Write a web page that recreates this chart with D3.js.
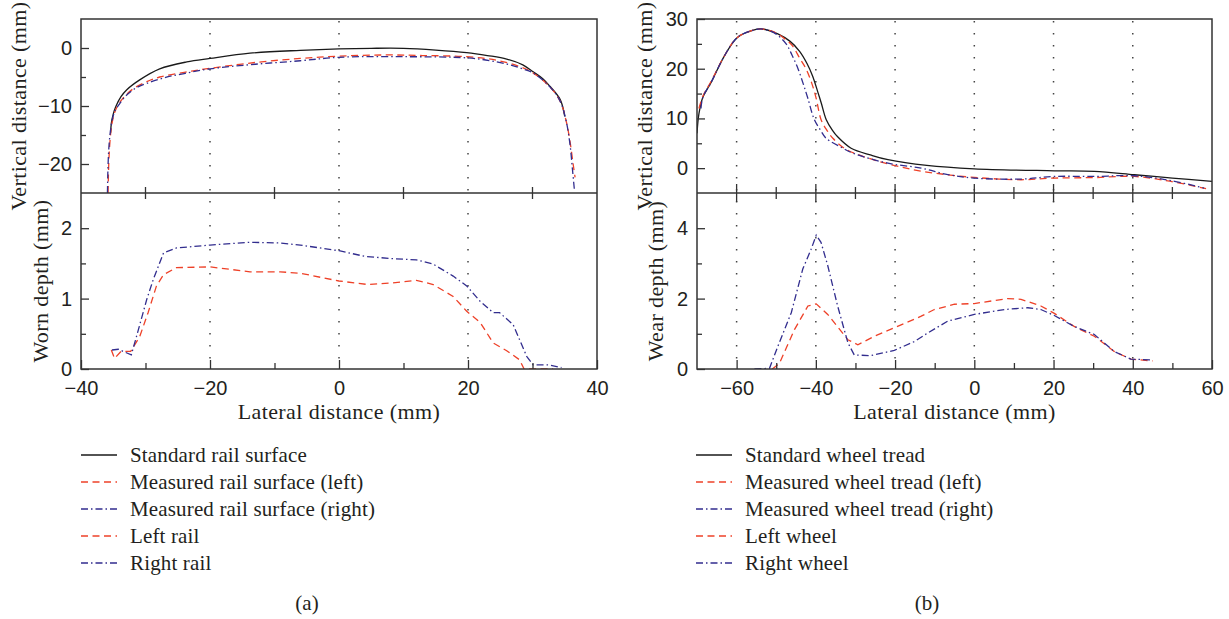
<!DOCTYPE html>
<html>
<head>
<meta charset="utf-8">
<script src="https://cdn.jsdelivr.net/npm/d3@7"></script>
<style>
  body { margin: 0; background: #fff; }
  svg { font-family: "Liberation Serif", "Times New Roman", serif; }
</style>
</head>
<body>
<svg id="chart" width="1229" height="619"></svg>
<script>
// ---- (a) rail: top panel profiles [lateral mm, vertical mm]
var railStandard = [[-35.4,-14.6],[-35.3,-13],[-35.0,-11.4],[-34.6,-10.1],[-33.8,-8.4],[-32.9,-7.2],[-30.9,-5.5],[-27.8,-3.6],[-23.6,-2.4],[-20,-1.8],[-13.8,-0.9],[-6,-0.4],[0,-0.15],[5,-0.05],[10,-0.05],[15,-0.35],[19.8,-0.8],[23,-1.3],[26,-1.9],[28.5,-2.9],[30.1,-4.1],[31.6,-5.3],[32.7,-6.6],[34.3,-8.9],[35.0,-11.8]];
var railMeasLeft = [[-35.8,-25],[-35.7,-20],[-35.5,-16],[-35.2,-13],[-34.6,-10.6],[-33.6,-8.8],[-32,-7.1],[-29.8,-5.8],[-27.8,-5.0],[-24,-4.2],[-20,-3.5],[-13,-2.5],[-6,-1.8],[0,-1.4],[7,-1.2],[13,-1.3],[19.8,-1.5],[24.4,-2.1],[28,-3.2],[30.1,-4.3],[32.7,-6.7],[34.3,-9.2],[35.2,-12.5],[35.8,-16],[36.3,-20],[36.6,-22.3]];
var railMeasRight = [[-35.9,-25],[-35.8,-20],[-35.6,-16],[-35.3,-13.3],[-34.8,-11],[-34,-9.6],[-33,-8.2],[-31.5,-6.9],[-29.8,-6.1],[-27,-5.1],[-24,-4.4],[-20,-3.6],[-13,-2.8],[-6,-2.2],[0,-1.6],[10,-1.5],[19.8,-1.7],[23.5,-2.2],[26.5,-2.9],[28.5,-3.6],[30.1,-4.3],[32.7,-6.7],[34.3,-9.2],[35.2,-12.5],[35.8,-16.5],[36.2,-21],[36.5,-24.5]];
// ---- (a) rail: bottom panel worn depth [lateral mm, depth mm]
var railWearLeft = [[-35.3,0.27],[-34.8,0.15],[-33.8,0.25],[-32.3,0.25],[-30.9,0.46],[-29.6,0.8],[-28.3,1.18],[-27.2,1.34],[-25.2,1.44],[-20,1.45],[-16.4,1.41],[-13.8,1.38],[-9.1,1.38],[-6,1.36],[0,1.25],[4.5,1.2],[7.9,1.22],[12,1.26],[14.6,1.2],[17.7,1.03],[19.8,0.82],[21.9,0.66],[23.9,0.37],[26,0.26],[28,0.13],[28.7,0],[33.2,0]];
var railWearRight = [[-35.2,0.27],[-34.2,0.28],[-32.2,0.2],[-31.4,0.46],[-29.8,0.99],[-28.8,1.27],[-27.2,1.65],[-25.2,1.72],[-20,1.76],[-13.8,1.8],[-9.1,1.79],[-6,1.76],[0,1.68],[4,1.6],[7.9,1.57],[12,1.55],[14.6,1.49],[17.7,1.32],[19.8,1.18],[21.9,0.96],[23.9,0.8],[24.9,0.8],[27,0.63],[29.1,0.18],[30.1,0.06],[32.5,0.06],[34.5,0.02]];

// ---- (b) wheel: top panel profiles
var wheelStandard = [[-70,7],[-69.5,11],[-68.5,14.3],[-66.4,17.3],[-63,22.7],[-59.8,26.3],[-56,27.7],[-53.8,28],[-49.6,27],[-46.5,25.5],[-44.1,23.5],[-42.2,21],[-40.8,18.5],[-39.5,15.3],[-38.6,13],[-37.4,9.8],[-35.8,7.6],[-34.5,6.3],[-31.1,4],[-26,2.6],[-21.8,1.7],[-12,0.55],[0,-0.13],[20.2,-0.53],[30.3,-0.67],[40.4,-1.33],[50,-2],[60,-2.67]];
var wheelMeasLeft = [[-69.5,12],[-68.5,14.5],[-66.4,17.5],[-63,22.7],[-59.8,26.3],[-56,27.7],[-53.8,28],[-50,27.2],[-47.5,25.8],[-45.8,24.5],[-44,22],[-42.5,20],[-41,17],[-39.9,14],[-38.7,9.8],[-37.2,7.6],[-35.7,6],[-32.8,4],[-28.6,2.5],[-20,0.5],[-13.4,-0.6],[-6.7,-1.33],[0,-1.87],[11.8,-2.33],[20.2,-2.0],[30.3,-1.9],[40.4,-1.67],[49.6,-2.67],[58.5,-4.13]];
var wheelMeasRight = [[-69,12],[-68.5,14.3],[-66.4,17.3],[-63,22.7],[-59.8,26.3],[-56,27.7],[-53.8,28],[-50.5,27.2],[-47.5,25],[-46,22.7],[-44.5,20],[-43.2,17],[-42,14],[-40.4,9.8],[-38.8,7.6],[-37.4,6],[-33.6,4.2],[-30.3,2.9],[-21.8,1.0],[-13.4,0],[-6.7,-1.3],[0,-2.0],[11.8,-2.2],[20.2,-1.67],[30.3,-1.67],[40.4,-1.53],[49.6,-2.5],[58,-4]];
// ---- (b) wheel: bottom panel wear depth
var wheelWearLeft = [[-51,0],[-49.2,0.16],[-45.4,1.12],[-42,1.79],[-39.9,1.85],[-37,1.55],[-31.9,0.83],[-29.4,0.69],[-25.2,0.93],[-20.2,1.17],[-13.4,1.5],[-10.1,1.69],[-5,1.84],[0,1.86],[8.4,2.0],[11.8,1.98],[16.8,1.79],[20.2,1.58],[25.2,1.21],[30.3,0.93],[35.3,0.5],[39.5,0.28],[45,0.23]];
var wheelWearRight = [[-55.5,0],[-51.7,0.02],[-49.6,0.64],[-46.2,1.6],[-43.3,2.84],[-41.2,3.4],[-39.9,3.8],[-38.7,3.6],[-37,2.94],[-34.5,1.79],[-31.9,0.74],[-30.3,0.4],[-26.1,0.38],[-20.2,0.53],[-15.1,0.78],[-11.8,1.02],[-6.7,1.36],[0,1.55],[7.6,1.69],[13.5,1.74],[16.8,1.69],[20.2,1.52],[25.2,1.21],[30.3,0.98],[35.3,0.5],[39.5,0.28],[44.6,0.26]];

// legends
var railLegend = ["Standard rail surface","Measured rail surface (left)","Measured rail surface (right)","Left rail","Right rail"];
var wheelLegend = ["Standard wheel tread","Measured wheel tread (left)","Measured wheel tread (right)","Left wheel","Right wheel"];

var RED = "#ee4128", BLUE = "#322d8e", BLACK = "#1a1a1a", INK = "#231f20";
var DASH = "7 4.5", DASHDOT = "7 3 1.5 3";
var styles = [
  { color: BLACK, dash: null },
  { color: RED, dash: DASH },
  { color: BLUE, dash: DASHDOT },
  { color: RED, dash: DASH },
  { color: BLUE, dash: DASHDOT }
];

var svg = d3.select("#chart");
var TOP = 19, MID = 193, BOT = 369;

function drawSide(o){
  var x = d3.scaleLinear().domain(o.xDomain).range([o.left, o.right]);
  var yT = d3.scaleLinear().domain(o.topDomain).range([MID, TOP]);
  var yB = d3.scaleLinear().domain(o.botDomain).range([BOT, MID]);
  var g = svg.append("g");

  // dotted grid
  g.append("g").selectAll("line").data(o.grid).enter().append("line")
    .attr("x1", function(d){ return x(d); }).attr("x2", function(d){ return x(d); })
    .attr("y1", TOP + 2).attr("y2", BOT)
    .attr("stroke", "#444").attr("stroke-width", 1.5)
    .attr("stroke-dasharray", "1.4 10.6");

  // clip
  var cid = "clip" + o.id;
  var cp = svg.append("clipPath").attr("id", cid);
  cp.append("rect").attr("x", o.left).attr("y", TOP).attr("width", o.right - o.left).attr("height", BOT - TOP);

  var lineT = d3.line().x(function(d){ return x(d[0]); }).y(function(d){ return yT(d[1]); }).curve(d3.curveCatmullRom.alpha(0.5));
  var lineB = d3.line().x(function(d){ return x(d[0]); }).y(function(d){ return yB(d[1]); });

  var series = [
    { data: o.top[0], st: styles[0], line: lineT },
    { data: o.top[1], st: styles[1], line: lineT },
    { data: o.top[2], st: styles[2], line: lineT },
    { data: o.bot[0], st: styles[3], line: lineB },
    { data: o.bot[1], st: styles[4], line: lineB }
  ];
  g.append("g").attr("clip-path", "url(#" + cid + ")")
    .selectAll("path").data(series).enter().append("path")
    .attr("fill", "none")
    .attr("stroke", function(d){ return d.st.color; })
    .attr("stroke-width", 1.3)
    .attr("stroke-dasharray", function(d){ return d.st.dash; })
    .attr("d", function(d){ return d.line(d.data); });

  // y axes (ticks pointing in)
  function yAxis(scale, major, minor){
    g.append("g").attr("transform", "translate(" + o.left + ",0)")
      .call(d3.axisLeft(scale).tickValues(major).tickSize(-8).tickPadding(9).tickFormat(d3.format("d")));
    g.append("g").attr("transform", "translate(" + o.left + ",0)")
      .call(d3.axisLeft(scale).tickValues(minor).tickSize(-5).tickFormat(""));
  }
  yAxis(yT, o.topMajor, o.topMinor);
  yAxis(yB, o.botMajor, o.botMinor);

  // bottom x axis
  g.append("g").attr("transform", "translate(0," + BOT + ")")
    .call(d3.axisBottom(x).tickValues(o.xMajor).tickSize(-9).tickPadding(12).tickFormat(d3.format("d")));
  g.append("g").attr("transform", "translate(0," + BOT + ")")
    .call(d3.axisBottom(x).tickValues(o.xMinor).tickSize(-6).tickFormat(""));
  // divider ticks, both ways
  o.midTicks.forEach(function(t){
    var len = o.xMajor.indexOf(t) >= 0 ? 9 : 6;
    g.append("line").attr("x1", x(t)).attr("x2", x(t))
      .attr("y1", MID - len).attr("y2", MID + len)
      .attr("stroke", "#333").attr("stroke-width", 1.3);
  });

  g.selectAll(".domain").remove();
  g.selectAll(".tick line").attr("stroke", "#333").attr("stroke-width", 1.3);
  g.selectAll(".tick text").attr("fill", INK).style("font-size", "20px");

  // frames
  g.append("rect").attr("x", o.left).attr("y", TOP).attr("width", o.right - o.left).attr("height", BOT - TOP)
    .attr("fill", "none").attr("stroke", "#333").attr("stroke-width", 1.5);
  g.append("line").attr("x1", o.left).attr("x2", o.right).attr("y1", MID).attr("y2", MID)
    .attr("stroke", "#333").attr("stroke-width", 1.5);

  // axis titles
  function title(sel){
    return sel.attr("text-anchor", "middle").attr("fill", INK)
      .style("font-size", "22px").style("letter-spacing", "0.4px");
  }
  title(g.append("text").attr("x", (o.left + o.right) / 2).attr("y", 419))
    .text("Lateral distance (mm)");
  title(g.append("text").attr("transform", "translate(" + o.yTitleX[0] + "," + (TOP + MID) / 2 + ") rotate(-90)"))
    .text("Vertical distance (mm)");
  title(g.append("text").attr("transform", "translate(" + o.yTitleX[1] + "," + (MID + BOT) / 2 + ") rotate(-90)"))
    .text(o.botTitle);

  // legend
  var lg = g.append("g").selectAll("g").data(o.legend).enter().append("g")
    .attr("transform", function(d, i){ return "translate(" + o.legendX + "," + (455 + i * 27) + ")"; });
  lg.append("line").attr("x1", 0).attr("x2", 36).attr("y1", 0).attr("y2", 0)
    .attr("stroke", function(d, i){ return styles[i].color; })
    .attr("stroke-width", 1.3)
    .attr("stroke-dasharray", function(d, i){ return styles[i].dash; });
  lg.append("text").attr("x", 49).attr("y", 0).attr("dy", "0.35em")
    .attr("fill", INK).style("font-size", "21px").style("letter-spacing", "0.15px")
    .text(function(d){ return d; });

  g.append("text").attr("x", o.capX).attr("y", 603).attr("dy", "0.35em")
    .attr("text-anchor", "middle").attr("fill", INK).style("font-size", "21px")
    .text(o.caption);
}

drawSide({
  id: "a", left: 81, right: 597,
  xDomain: [-40, 40], topDomain: [-25, 5], botDomain: [0, 2.5],
  grid: [-20, 0, 20],
  xMajor: [-40, -20, 0, 20, 40], xMinor: [-30, -10, 10, 30], midTicks: [-30, -10, 10, 30],
  topMajor: [-20, -10, 0], topMinor: [-15, -5],
  botMajor: [0, 1, 2], botMinor: [0.5, 1.5],
  top: [railStandard, railMeasLeft, railMeasRight], bot: [railWearLeft, railWearRight],
  botTitle: "Worn depth (mm)", yTitleX: [26, 48],
  legend: railLegend, legendX: 81, capX: 307, caption: "(a)"
});

drawSide({
  id: "b", left: 697, right: 1212,
  xDomain: [-70, 60], topDomain: [-5, 30], botDomain: [0, 5],
  grid: [-60, -40, -20, 0, 20, 40],
  xMajor: [-60, -40, -20, 0, 20, 40, 60], xMinor: [-50, -30, -10, 10, 30, 50],
  midTicks: [-60, -50, -40, -30, -20, -10, 0, 10, 20, 30, 40, 50],
  topMajor: [0, 10, 20, 30], topMinor: [5, 15, 25],
  botMajor: [0, 2, 4], botMinor: [1, 3],
  top: [wheelStandard, wheelMeasLeft, wheelMeasRight], bot: [wheelWearLeft, wheelWearRight],
  botTitle: "Wear depth (mm)", yTitleX: [652, 663],
  legend: wheelLegend, legendX: 696, capX: 927, caption: "(b)"
});
</script>
</body>
</html>
